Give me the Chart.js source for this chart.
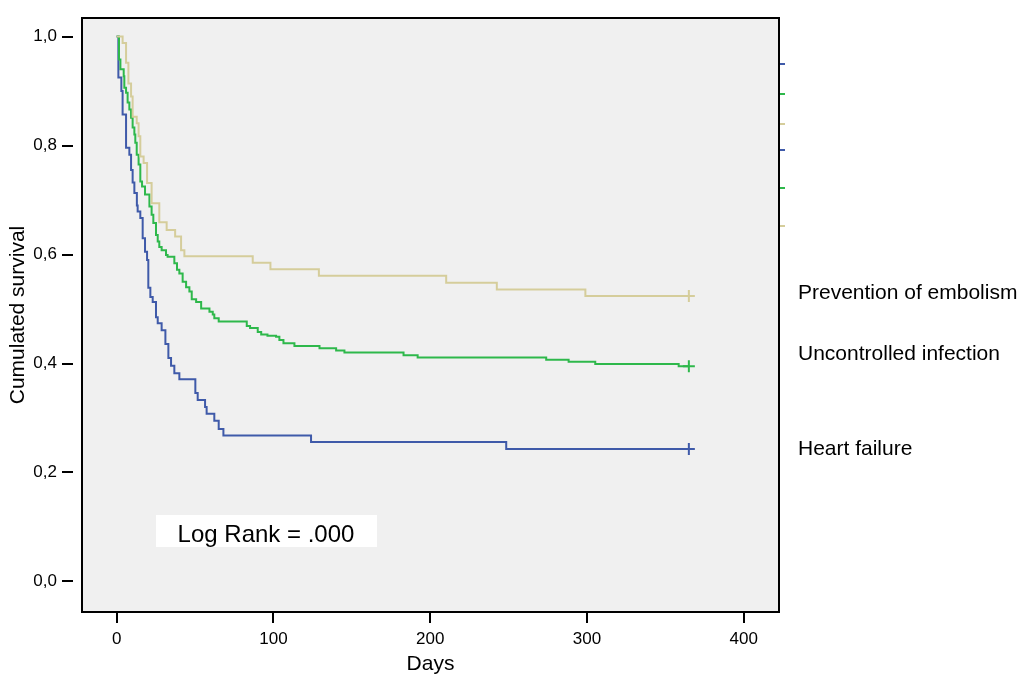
<!DOCTYPE html>
<html>
<head>
<meta charset="utf-8">
<script src="https://cdn.jsdelivr.net/npm/chart.js@4/dist/chart.umd.min.js"></script>
<style>
  html, body { margin: 0; padding: 0; background: #fff; }
  #wrap { width: 1025px; height: 677px; }
</style>
</head>
<body>
<div id="wrap"><canvas id="km" width="1025" height="677"></canvas></div>
<script>
// Kaplan-Meier curves (day of each drop, survival after it)
const X_TICKS = [0, 100, 200, 300, 400];
const Y_TICKS = [0, 0.2, 0.4, 0.6, 0.8, 1.0];
const FOLLOW_UP_END = 365;

const SERIES_NAMES = ['Prevention of embolism', 'Uncontrolled infection', 'Heart failure'];

const EMBOLISM_DAYS = [0, 3.8, 6, 7.5, 9.2, 10.2, 12.8, 14, 15.1, 17.2, 19.4, 22.3, 27.2, 31.9, 37.3, 41.1, 43.2, 86.8, 98.1, 129, 210.2, 242.5, 299];
const EMBOLISM_SURV = [1.0, 0.988, 0.952, 0.914, 0.89, 0.853, 0.841, 0.817, 0.78, 0.768, 0.731, 0.694, 0.659, 0.645, 0.633, 0.608, 0.597, 0.585, 0.573, 0.561, 0.548, 0.536, 0.524];

const INFECTION_DAYS = [0, 1.5, 2.4, 4.5, 4.9, 6, 7, 8.1, 9.2, 10.2, 11.3, 11.9, 12.8, 14, 15.1, 16.2, 18.1, 20.9, 22.3, 23.4, 25.1, 26.2, 27.2, 28.7, 31.5, 32.5, 36.8, 38.5, 40, 42.1, 44.3, 46.4, 47.9, 50.7, 53.9, 59.2, 61.3, 62.3, 65.1, 83, 85.1, 90, 92.2, 96.2, 101.7, 103.8, 106.4, 113.4, 129.4, 140, 145.3, 183, 192, 274, 288.3, 305.3, 358.5];
const INFECTION_SURV = [1.0, 0.958, 0.94, 0.927, 0.906, 0.897, 0.879, 0.866, 0.851, 0.833, 0.82, 0.805, 0.783, 0.765, 0.734, 0.725, 0.71, 0.688, 0.673, 0.658, 0.636, 0.624, 0.614, 0.608, 0.599, 0.596, 0.584, 0.572, 0.565, 0.55, 0.54, 0.532, 0.518, 0.513, 0.501, 0.495, 0.49, 0.483, 0.477, 0.469, 0.465, 0.458, 0.453, 0.451, 0.449, 0.443, 0.437, 0.432, 0.428, 0.424, 0.42, 0.415, 0.411, 0.407, 0.403, 0.399, 0.395];

const HEART_DAYS = [0, 1.1, 3, 3.8, 6, 8.1, 9.2, 10.2, 11.3, 12.9, 13.4, 15.1, 16.6, 18.1, 19.4, 20.2, 21.5, 23, 25.1, 26.2, 28.7, 31.1, 33, 34.7, 36.8, 40, 50.2, 51.7, 56.4, 57.4, 62.3, 65.1, 68.1, 124, 248.5];
const HEART_SURV = [1.0, 0.925, 0.9, 0.857, 0.796, 0.783, 0.755, 0.732, 0.713, 0.69, 0.679, 0.667, 0.63, 0.605, 0.59, 0.539, 0.522, 0.513, 0.485, 0.474, 0.461, 0.436, 0.41, 0.396, 0.382, 0.371, 0.346, 0.333, 0.32, 0.308, 0.295, 0.28, 0.268, 0.256, 0.243];

const COLORS = ['#d5cd9b', '#2eb84b', '#3f5aa9'];
const LEGEND_Y = [293, 354, 449];
const FONT = 'Liberation Sans, Arial, Helvetica, sans-serif';

function toSteps(days, surv) {
  const pts = days.map((d, i) => ({ x: d, y: surv[i] }));
  pts.push({ x: FOLLOW_UP_END, y: surv[surv.length - 1] }); // censored at end of follow-up
  return pts;
}

const curves = [
  toSteps(EMBOLISM_DAYS, EMBOLISM_SURV),
  toSteps(INFECTION_DAYS, INFECTION_SURV),
  toSteps(HEART_DAYS, HEART_SURV)
];

const datasets = curves.map((pts, i) => ({
  label: SERIES_NAMES[i],
  data: pts,
  stepped: 'before',
  borderColor: COLORS[i],
  borderWidth: 2,
  fill: false,
  pointStyle: 'cross',
  pointBorderColor: COLORS[i],
  pointBorderWidth: 2,
  pointRadius: ctx => (ctx.dataIndex === pts.length - 1 ? 6 : 0)
}));

const frame = {
  id: 'frame',
  beforeDraw(chart) {
    const { ctx, chartArea: a } = chart;
    ctx.save();
    ctx.fillStyle = '#f0f0f0';
    ctx.fillRect(a.left, a.top, a.right - a.left, a.bottom - a.top);
    ctx.restore();
  },
  afterDraw(chart) {
    const { ctx, chartArea: a } = chart;
    const xs = chart.scales.x, ys = chart.scales.y;
    ctx.save();
    ctx.strokeStyle = '#000';
    ctx.lineWidth = 2;
    ctx.strokeRect(a.left, a.top, a.right - a.left, a.bottom - a.top);

    ctx.beginPath();
    Y_TICKS.forEach(v => {
      const py = Math.round(ys.getPixelForValue(v));
      ctx.moveTo(a.left - 20, py);
      ctx.lineTo(a.left - 9, py);
    });
    X_TICKS.forEach(v => {
      const px = Math.round(xs.getPixelForValue(v));
      ctx.moveTo(px, a.bottom + 1);
      ctx.lineTo(px, a.bottom + 11);
    });
    ctx.stroke();

    // leftover legend swatches on the right edge of the frame
    [64, 94, 124, 150, 188, 226].forEach((py, i) => {
      ctx.fillStyle = COLORS[[2, 1, 0][i % 3]];
      ctx.fillRect(a.right + 1, py - 1, 5, 2);
    });

    ctx.fillStyle = '#000';
    ctx.font = '21px ' + FONT;
    ctx.textAlign = 'left';
    ctx.textBaseline = 'middle';
    SERIES_NAMES.forEach((name, i) => ctx.fillText(name, a.right + 19, LEGEND_Y[i]));

    ctx.fillStyle = '#fff';
    ctx.fillRect(156, 515, 221, 32);
    ctx.fillStyle = '#000';
    ctx.font = '24px ' + FONT;
    ctx.textAlign = 'center';
    ctx.textBaseline = 'alphabetic';
    ctx.fillText('Log Rank = .000', 266, 542);
    ctx.restore();
  }
};

new Chart(document.getElementById('km'), {
  type: 'line',
  data: { datasets },
  options: {
    responsive: false,
    animation: false,
    layout: { padding: { top: 18, right: 246, left: 0, bottom: 0 } },
    plugins: { legend: { display: false }, tooltip: { enabled: false } },
    scales: {
      x: {
        type: 'linear',
        min: -22.1,
        max: 422.5,
        grid: { display: false, drawTicks: false },
        border: { display: false },
        afterBuildTicks: s => { s.ticks = X_TICKS.map(v => ({ value: v })); },
        afterFit: s => { s.height = 65; s.paddingLeft = 0; s.paddingRight = 0; },
        ticks: { color: '#000', font: { family: FONT, size: 17 }, padding: 17, maxRotation: 0, autoSkip: false },
        title: { display: true, text: 'Days', color: '#000', font: { family: FONT, size: 21 }, padding: { top: 0, bottom: 0 } }
      },
      y: {
        min: -0.056,
        max: 1.034,
        grid: { display: false, drawTicks: false },
        border: { display: false },
        afterBuildTicks: s => { s.ticks = Y_TICKS.map(v => ({ value: v })); },
        afterFit: s => { s.width = 82; s.paddingTop = 0; s.paddingBottom = 0; },
        ticks: {
          color: '#000',
          font: { family: FONT, size: 17 },
          padding: 25,
          autoSkip: false,
          callback: v => v.toFixed(1).replace('.', ',')
        },
        title: { display: true, text: 'Cumulated survival', color: '#000', font: { family: FONT, size: 21 }, padding: { top: 6, bottom: 0 } }
      }
    }
  },
  plugins: [frame]
});
</script>
</body>
</html>
